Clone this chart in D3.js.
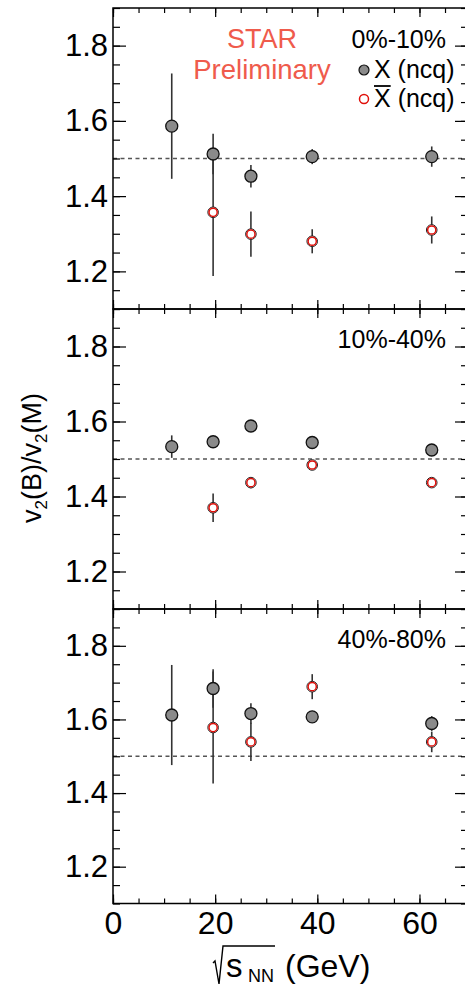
<!DOCTYPE html>
<html>
<head>
<meta charset="utf-8">
<script src="https://cdn.jsdelivr.net/npm/d3@7.9.0/dist/d3.min.js"></script>
<style>
  body { margin: 0; background: #fff; }
  svg { display: block; font-family: "Liberation Sans", Arial, Helvetica, sans-serif; }
</style>
</head>
<body>
<svg id="chart" width="465" height="985"></svg>
<script>
// beam energies (GeV)
const energies = [11.5, 19.6, 27, 39, 62.4];
const centralities = ['0%-10%', '10%-40%', '40%-80%'];

// v2(B)/v2(M) for Xi (ncq), one row per centrality
const xiValues = [
  [1.586, 1.512, 1.453, 1.505, 1.505],
  [1.533, 1.546, 1.588, 1.544, 1.524],
  [1.612, 1.684, 1.616, 1.607, 1.589]
];
const xiErrors = [
  [0.14, 0.054, 0.03, 0.02, 0.027],
  [0.03, 0.008, 0.008, 0.008, 0.008],
  [0.136, 0.052, 0.028, 0.008, 0.02]
];

// anti-Xi (ncq), no point at 11.5 GeV
const xibarValues = [
  [null, 1.357, 1.299, 1.280, 1.310],
  [null, 1.370, 1.437, 1.484, 1.437],
  [null, 1.578, 1.539, 1.689, 1.539]
];
const xibarErrors = [
  [null, 0.169, 0.06, 0.032, 0.036],
  [null, 0.038, 0.015, 0.008, 0.008],
  [null, 0.152, 0.052, 0.034, 0.028]
];

const yTicks = [1.2, 1.4, 1.6, 1.8];
const xTicks = [0, 20, 40, 60];
const refLine = 1.5;

const svg = d3.select('#chart');

const left = 113, right = 468;
const panelTops = [8, 309, 609];
const panelBottoms = [309, 609, 903.5];

const x = d3.scaleLinear().domain([0, 69.5]).range([left, right]);
const xMinor = d3.range(0, 70, 5);
const yMinor = d3.range(1.1, 1.9001, 0.05).map((d) => +d.toFixed(2));

const red = '#ef5b4c';

centralities.forEach((label, p) => {
  const y = d3.scaleLinear().domain([1.1, 1.9]).range([panelBottoms[p], panelTops[p]]);
  const g = svg.append('g');

  // dashed reference
  g.append('line')
    .attr('x1', left).attr('x2', right)
    .attr('y1', y(refLine)).attr('y2', y(refLine))
    .attr('stroke', '#555').attr('stroke-width', 1.3)
    .attr('stroke-dasharray', '4,3.5');

  // axes: left with labels
  const yAxis = g.append('g').attr('transform', `translate(${left},0)`)
    .call(d3.axisLeft(y).tickValues(yTicks).tickSize(-13).tickPadding(5).tickFormat(d3.format('.1f')));
  yAxis.selectAll('text').attr('font-size', 31).attr('fill', '#000');
  g.append('g').attr('transform', `translate(${left},0)`)
    .call(d3.axisLeft(y).tickValues(yMinor).tickSize(-7).tickFormat(''));
  g.append('g').attr('transform', `translate(${right},0)`)
    .call(d3.axisRight(y).tickValues(yTicks).tickSize(-13).tickFormat(''));
  g.append('g').attr('transform', `translate(${right},0)`)
    .call(d3.axisRight(y).tickValues(yMinor).tickSize(-7).tickFormat(''));

  // x ticks top and bottom
  const xb = g.append('g').attr('transform', `translate(0,${panelBottoms[p]})`)
    .call(d3.axisBottom(x).tickValues(xTicks).tickSize(-9).tickPadding(8)
      .tickFormat(p === 2 ? d3.format('d') : ''));
  xb.selectAll('text').attr('font-size', 32).attr('fill', '#000');
  g.append('g').attr('transform', `translate(0,${panelBottoms[p]})`)
    .call(d3.axisBottom(x).tickValues(xMinor).tickSize(-5).tickFormat(''));
  g.append('g').attr('transform', `translate(0,${panelTops[p]})`)
    .call(d3.axisTop(x).tickValues(xTicks).tickSize(-9).tickFormat(''));
  g.append('g').attr('transform', `translate(0,${panelTops[p]})`)
    .call(d3.axisTop(x).tickValues(xMinor).tickSize(-5).tickFormat(''));

  g.selectAll('.domain').remove();
  g.selectAll('.tick line').attr('stroke', '#000').attr('stroke-width', 1.2);

  g.append('rect')
    .attr('x', left).attr('y', panelTops[p])
    .attr('width', right - left).attr('height', panelBottoms[p] - panelTops[p])
    .attr('fill', 'none').attr('stroke', '#000').attr('stroke-width', 1.5);

  const xi = energies.map((e, i) => ({ e, v: xiValues[p][i], err: xiErrors[p][i] }));
  const xibar = energies.map((e, i) => ({ e, v: xibarValues[p][i], err: xibarErrors[p][i] }))
    .filter((d) => d.v !== null);

  // error bars
  g.selectAll('line.err').data(xi.concat(xibar)).join('line')
    .attr('class', 'err')
    .attr('x1', (d) => x(d.e)).attr('x2', (d) => x(d.e))
    .attr('y1', (d) => y(d.v - d.err)).attr('y2', (d) => y(d.v + d.err))
    .attr('stroke', '#333').attr('stroke-width', 1.6);

  g.selectAll('circle.xi').data(xi).join('circle')
    .attr('class', 'xi')
    .attr('cx', (d) => x(d.e)).attr('cy', (d) => y(d.v)).attr('r', 6)
    .attr('fill', '#8a8a8a').attr('stroke', '#111').attr('stroke-width', 1.3);

  g.selectAll('circle.xibar').data(xibar).join('circle')
    .attr('class', 'xibar')
    .attr('cx', (d) => x(d.e)).attr('cy', (d) => y(d.v)).attr('r', 5.3)
    .attr('fill', '#fff').attr('stroke', '#222').attr('stroke-width', 1);
  g.selectAll('circle.xibarIn').data(xibar).join('circle')
    .attr('class', 'xibarIn')
    .attr('cx', (d) => x(d.e)).attr('cy', (d) => y(d.v)).attr('r', 4.1)
    .attr('fill', '#fff').attr('stroke', '#e0100a').attr('stroke-width', 1.5);

  g.append('text')
    .attr('x', 446).attr('y', panelTops[p] + (p === 0 ? 40 : 39))
    .attr('text-anchor', 'end').attr('font-size', 25).attr('fill', '#000')
    .text(label);
});

// STAR Preliminary
svg.append('text').attr('x', 262).attr('y', 48).attr('text-anchor', 'middle')
  .attr('font-size', 27).attr('fill', red).text('STAR');
svg.append('text').attr('x', 262).attr('y', 79).attr('text-anchor', 'middle')
  .attr('font-size', 27.5).attr('fill', red).text('Preliminary');

// legend
svg.append('circle').attr('cx', 364).attr('cy', 70).attr('r', 5)
  .attr('fill', '#8a8a8a').attr('stroke', '#111').attr('stroke-width', 1.2);
svg.append('circle').attr('cx', 364).attr('cy', 99).attr('r', 4.5)
  .attr('fill', '#fff').attr('stroke', '#e0100a').attr('stroke-width', 1.5);
svg.append('text').attr('x', 374).attr('y', 78).attr('font-size', 25).text('X (ncq)');
const xb2 = svg.append('text').attr('x', 374).attr('y', 107).attr('font-size', 25);
xb2.append('tspan').text('X');
xb2.append('tspan').text(' (ncq)');
const xw = xb2.node().getSubStringLength(0, 1);
svg.append('line').attr('x1', 374).attr('x2', 374 + xw)
  .attr('y1', 86).attr('y2', 86).attr('stroke', '#000').attr('stroke-width', 1.8);

// y title
const yt = svg.append('text')
  .attr('transform', 'translate(41,458) rotate(-90)')
  .attr('text-anchor', 'middle').attr('font-size', 27);
yt.append('tspan').text('v');
yt.append('tspan').attr('font-size', 17).attr('dy', 6).text('2');
yt.append('tspan').attr('dy', -6).text('(B)/v');
yt.append('tspan').attr('font-size', 17).attr('dy', 6).text('2');
yt.append('tspan').attr('dy', -6).text('(M)');

// x title
const xt = svg.append('g').attr('transform', 'translate(213,977)');
xt.append('path').attr('d', 'M0,-14 L2,-16 L6,7 L10,-31 H62')
  .attr('fill', 'none').attr('stroke', '#000').attr('stroke-width', 1.4);
xt.append('text').attr('x', 13).attr('y', 0).attr('font-size', 33).text('s');
xt.append('text').attr('x', 35).attr('y', 5).attr('font-size', 18).text('NN');
xt.append('text').attr('x', 72).attr('y', 0).attr('font-size', 32).text('(GeV)');
</script>
</body>
</html>
